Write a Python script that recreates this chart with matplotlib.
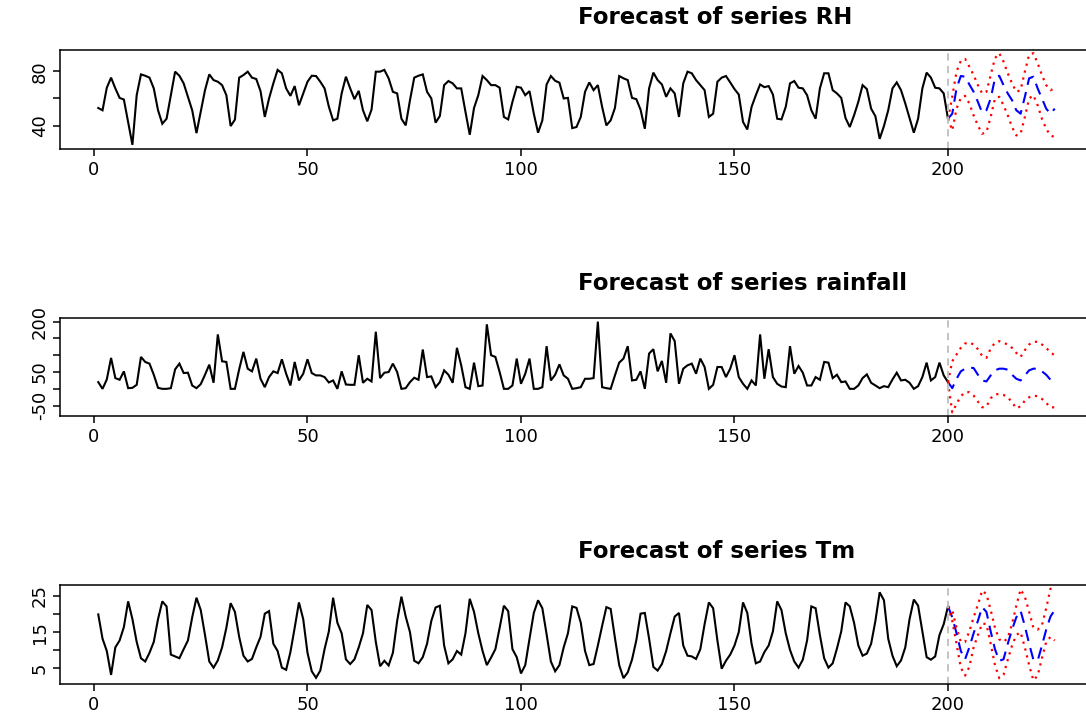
import matplotlib
matplotlib.use("Agg")
from matplotlib import pyplot as plt

# series observadas (t = 1..200)
RH = [53.0, 51.3, 67.9, 75.3, 67.4, 60.4, 59.2, 42.7, 25.9, 62.4,
      77.7, 76.7, 75.3, 67.4, 51.3, 41.4, 45.1, 62.4, 79.7, 76.7,
      71.1, 61.2, 51.3, 34.5, 50.1, 66.1, 77.7, 73.5, 72.3, 69.8,
      62.4, 39.7, 44.4, 75.3, 77.2, 79.7, 75.3, 74.3, 65.4, 46.4,
      60.0, 71.1, 81.0, 78.5, 67.4, 61.9, 69.1, 55.0, 63.7, 72.3,
      76.7, 76.5, 72.3, 67.4, 54.0, 43.9, 45.1, 63.7, 76.0, 67.4,
      59.5, 65.6, 51.3, 43.2, 51.8, 79.7, 79.7, 81.0, 74.8, 64.9,
      63.7, 45.1, 40.2, 58.7, 75.3, 76.7, 77.7, 64.9, 60.0, 42.2,
      47.1, 69.8, 72.8, 71.1, 67.4, 67.4, 50.1, 33.3, 53.0, 62.4,
      76.5, 73.5, 69.8, 69.8, 67.9, 46.4, 44.6, 57.5, 68.6, 67.9,
      62.4, 65.4, 48.8, 34.8, 43.9, 70.3, 76.5, 73.0, 71.6, 60.0,
      60.4, 38.2, 39.0, 46.4, 64.9, 71.8, 66.1, 69.8, 53.8, 40.2,
      43.9, 53.0, 76.5, 74.8, 73.5, 60.4, 59.5, 51.8, 37.7, 67.4,
      79.0, 73.5, 70.3, 61.2, 67.4, 63.7, 46.4, 71.1, 79.7, 78.5,
      73.5, 69.8, 66.1, 46.4, 48.8, 72.3, 75.3, 76.5, 71.8, 66.9,
      62.9, 42.7, 37.2, 53.8, 62.4, 70.3, 68.3, 69.1, 62.9, 45.1,
      44.6, 53.8, 71.1, 72.8, 67.9, 67.4, 62.4, 51.3, 45.1, 67.4,
      78.5, 78.5, 66.1, 63.7, 60.4, 45.6, 39.0, 47.6, 57.5, 69.8,
      66.9, 52.5, 46.9, 30.3, 39.7, 51.3, 67.4, 71.8, 66.1, 56.3,
      45.6, 34.8, 45.1, 67.4, 79.0, 75.3, 67.9, 67.4, 63.7, 45.1]

rainfall = [20, 0, 28, 92, 32, 27, 52, 2, 3, 12,
            95, 80, 75, 42, 3, 0, 0, 2, 58, 75,
            47, 48, 10, 2, 14, 42, 72, 18, 162, 82,
            80, 0, 0, 58, 110, 60, 52, 90, 30, 5,
            35, 52, 47, 88, 45, 10, 80, 25, 45, 88,
            47, 40, 40, 35, 19, 25, 0, 52, 13, 12,
            12, 100, 18, 30, 22, 170, 32, 48, 50, 75,
            50, 0, 2, 20, 33, 27, 117, 35, 37, 5,
            20, 55, 42, 18, 122, 70, 5, 0, 78, 8,
            10, 192, 100, 95, 50, 0, 0, 10, 90, 15,
            45, 90, 0, 0, 5, 127, 25, 42, 73, 40,
            30, 0, 2, 5, 30, 30, 32, 200, 5, 2,
            0, 40, 78, 90, 127, 25, 27, 52, 0, 105,
            118, 52, 83, 18, 165, 142, 15, 60, 70, 75,
            45, 90, 65, 0, 12, 65, 65, 35, 60, 100,
            35, 15, 0, 25, 10, 162, 30, 118, 35, 15,
            7, 5, 127, 45, 68, 48, 10, 10, 35, 27,
            80, 78, 32, 42, 20, 22, 0, 0, 10, 32,
            43, 18, 10, 2, 8, 5, 28, 48, 25, 27,
            18, 0, 8, 35, 78, 25, 35, 78, 40, 20]

Tm = [19.9, 13.2, 9.8, 3.2, 10.8, 12.7, 16.4, 23.5, 18.6, 12.3,
      7.8, 6.9, 9.3, 12.3, 18.6, 23.5, 22.1, 8.8, 8.3, 7.8,
      10.3, 12.7, 19.1, 24.5, 21.1, 14.2, 6.9, 5.2, 7.2, 10.8,
      16.2, 23.0, 20.6, 13.7, 8.5, 6.9, 7.6, 10.8, 13.7, 20.1,
      20.8, 11.8, 9.8, 5.2, 4.6, 9.5, 16.2, 23.2, 18.6, 9.3,
      4.2, 2.4, 4.4, 10.3, 15.2, 24.5, 17.6, 14.7, 7.5, 6.2,
      7.5, 10.8, 14.7, 22.5, 21.1, 12.3, 5.6, 7.1, 5.8, 9.3,
      18.1, 24.8, 19.3, 15.0, 7.1, 6.4, 8.1, 11.8, 18.1, 21.8,
      22.3, 11.3, 6.4, 7.5, 9.8, 8.8, 14.7, 24.2, 20.6, 14.7,
      9.8, 5.9, 8.0, 10.3, 16.2, 22.3, 20.8, 10.3, 8.1, 3.6,
      5.9, 13.2, 20.3, 23.8, 21.6, 14.4, 6.9, 4.2, 5.9, 10.8,
      14.7, 22.1, 21.7, 17.6, 9.8, 5.9, 6.2, 11.3, 16.7, 21.9,
      21.4, 13.4, 5.9, 2.3, 3.9, 7.4, 12.7, 20.1, 20.3, 13.2,
      5.4, 4.4, 6.2, 9.8, 14.7, 19.3, 20.3, 11.3, 8.5, 8.3,
      7.6, 10.3, 17.2, 23.2, 21.6, 12.7, 4.9, 7.1, 8.8, 11.3,
      15.0, 23.2, 20.3, 11.8, 6.4, 6.9, 9.5, 11.3, 15.2, 23.5,
      21.1, 14.7, 10.1, 6.9, 5.2, 7.4, 12.7, 22.1, 21.6, 14.2,
      7.8, 5.2, 6.4, 10.5, 15.2, 23.2, 22.1, 17.6, 11.3, 8.5,
      9.1, 11.8, 18.1, 26.0, 23.8, 13.2, 8.5, 5.6, 7.2, 10.8,
      18.6, 24.0, 22.3, 15.2, 8.1, 7.4, 8.3, 14.2, 17.2, 22.1]

# pronosticos (t = 201..225): media, limite superior, limite inferior
RH_fcst = [48.8, 67.4, 76.5, 76.0, 70.3, 64.9, 57.5, 49.6, 51.3, 60.0, 74.8, 76.7, 69.8,
           63.7, 58.7, 51.3, 48.8, 61.2, 74.8, 76.0, 67.4, 60.0, 52.5, 48.8, 52.5]
RH_sup = [61.2, 79.7, 87.6, 89.1, 83.4, 77.2, 69.8, 63.7, 64.9, 77.2, 89.6, 93.3, 87.1,
          78.5, 71.1, 64.9, 66.1, 79.7, 92.1, 93.3, 85.9, 77.2, 69.8, 66.1, 67.4]
RH_inf = [36.5, 52.5, 60.4, 61.9, 56.3, 47.6, 40.2, 34.0, 35.3, 46.4, 60.0, 61.2, 55.0,
          47.6, 39.0, 32.8, 34.0, 46.4, 60.0, 62.4, 55.0, 45.1, 37.7, 32.8, 31.6]

rain_fcst = [2, 30, 52, 60, 63, 62, 42, 25, 22, 40, 55, 60, 60,
             57, 42, 30, 25, 40, 55, 60, 60, 52, 42, 27, 25]
rain_sup = [82, 102, 122, 135, 138, 132, 118, 98, 92, 120, 137, 142, 137,
            132, 122, 107, 95, 115, 132, 140, 140, 132, 122, 108, 100]
rain_inf = [-70, -45, -22, -10, -10, -20, -38, -55, -53, -28, -17, -15, -18,
            -25, -40, -58, -52, -35, -25, -20, -22, -30, -42, -55, -55]

Tm_fcst = [19.1, 14.7, 9.8, 7.5, 10.8, 14.7, 18.1, 21.9, 20.6, 15.2, 10.3, 7.1, 7.5,
           11.8, 15.7, 19.1, 20.9, 16.7, 11.8, 7.4, 7.1, 11.3, 15.7, 19.3, 21.1]
Tm_sup = [21.1, 16.2, 12.3, 12.3, 15.2, 19.1, 22.5, 26.5, 25.5, 21.1, 16.2, 13.0, 12.3,
          13.4, 17.2, 22.3, 26.8, 24.8, 20.6, 16.2, 15.7, 16.9, 21.6, 27.0, 26.0]
Tm_inf = [18.1, 11.8, 5.2, 3.0, 5.4, 10.8, 14.2, 17.4, 17.2, 11.8, 5.9, 2.3, 3.2,
          7.4, 11.3, 14.2, 15.0, 10.8, 5.9, 1.7, 3.0, 7.8, 12.3, 13.7, 12.7]

x_ticks = [0, 50, 100, 150, 200]
RH_ticks, RH_labels = [40, 60, 80], ["40", "", "80"]
rain_ticks, rain_labels = [-50, 0, 50, 100, 150, 200], ["-50", "", "50", "", "", "200"]
Tm_ticks, Tm_labels = [5, 10, 15, 20, 25], ["5", "", "15", "", "25"]

W, H = 1086, 727
FONT = "DejaVu Sans"


def crear_eje(fig, arriba, abajo, izq=60, der=1093):
    return fig.add_axes([izq / W, 1 - abajo / H, (der - izq) / W, (abajo - arriba) / H])


def graficar(ax, serie, fcst, sup, inf, yticks, ylabels):
    n = len(serie)
    t = list(range(1, n + 1))
    tf = list(range(n, n + len(fcst) + 1))
    ultimo = serie[-1]
    ax.plot(t, serie, color="black", lw=1.5, solid_joinstyle="miter")
    ax.plot(tf, [ultimo] + fcst, color="#0000FF", lw=1.5, dashes=(5.5, 3.5))
    ax.plot(tf, [ultimo] + sup, color="#FF0000", lw=1.6, dashes=(1, 2.2))
    ax.plot(tf, [ultimo] + inf, color="#FF0000", lw=1.6, dashes=(1, 2.2))
    ax.axvline(n, color="#BEBEBE", lw=1.3, dashes=(4, 3))

    total = n + len(fcst)
    ax.set_xlim(1 - 0.04 * (total - 1), total + 0.04 * (total - 1))
    todo = serie + sup + inf
    rango = max(todo) - min(todo)
    ax.set_ylim(min(todo) - 0.04 * rango, max(todo) + 0.04 * rango)

    ax.set_xticks(x_ticks)
    ax.set_xticklabels([str(v) for v in x_ticks], fontsize=13, family=FONT)
    ax.set_yticks(yticks)
    ax.set_yticklabels(ylabels, fontsize=13, family=FONT, rotation=90, va="center")
    ax.tick_params(axis="both", direction="out", length=5, width=1.1, color="black")
    ax.tick_params(axis="x", pad=4)
    ax.tick_params(axis="y", pad=3)
    for s in ax.spines.values():
        s.set_linewidth(1.1)


fig = plt.figure(figsize=(W / 100, H / 100), dpi=100)

ax1 = crear_eje(fig, 49.5, 148.5)
graficar(ax1, RH, RH_fcst, RH_sup, RH_inf, RH_ticks, RH_labels)
ax2 = crear_eje(fig, 318, 416)
graficar(ax2, rainfall, rain_fcst, rain_sup, rain_inf, rain_ticks, rain_labels)
ax3 = crear_eje(fig, 585, 684)
graficar(ax3, Tm, Tm_fcst, Tm_sup, Tm_inf, Tm_ticks, Tm_labels)

titulos = [("Forecast of series RH", 18), ("Forecast of series rainfall", 283),
           ("Forecast of series Tm", 551)]
for texto, y in titulos:
    fig.text(578 / W, 1 - y / H, texto, fontsize=16.5, fontweight="bold",
             family=FONT, ha="left", va="center")

fig.savefig("out.png", dpi=100)
